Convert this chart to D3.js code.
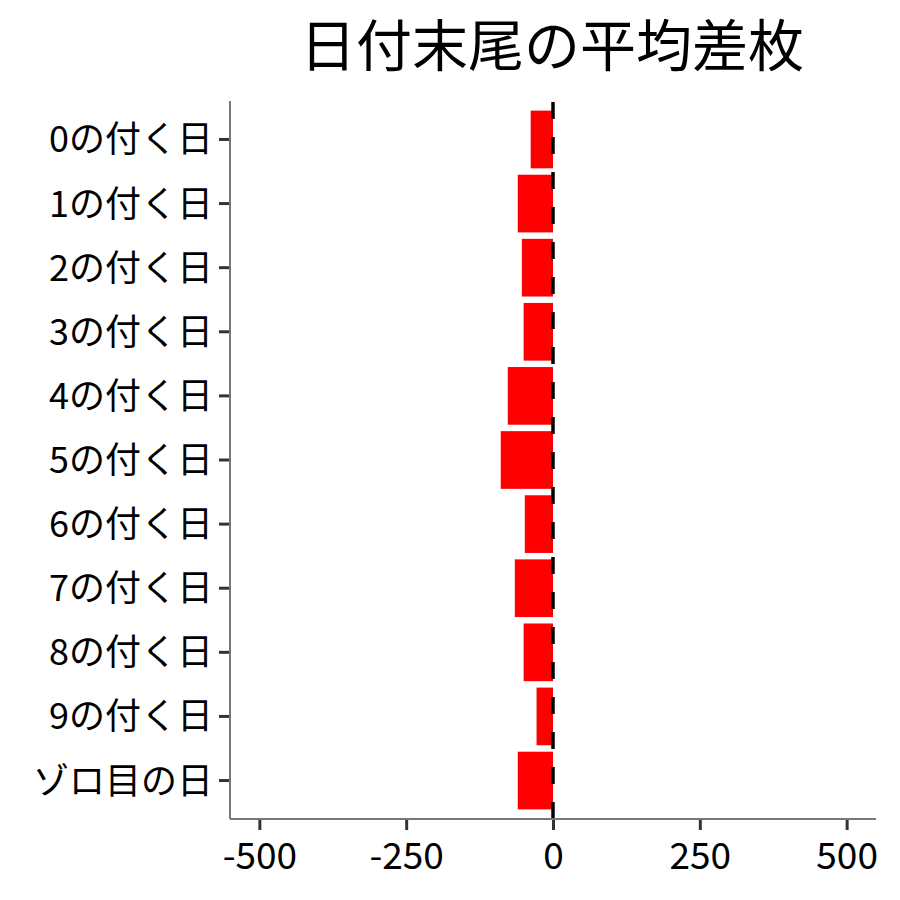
<!DOCTYPE html>
<html>
<head>
    <meta charset="utf-8" />
    <title>日付末尾の平均差枚</title>
    <style>
        body { margin: 0; background: #fff; }
        text { font-family: "Noto Sans CJK JP", "Noto Sans", sans-serif; fill: #000; }
    </style>
</head>
<body>
    <script src="https://cdn.jsdelivr.net/npm/d3@7"></script>
    <script>
    // data
    var categories = ["0の付く日", "1の付く日", "2の付く日", "3の付く日", "4の付く日",
                      "5の付く日", "6の付く日", "7の付く日", "8の付く日", "9の付く日", "ゾロ目の日"];
    var values = [-38, -60, -53, -50, -77, -89, -48, -65, -50, -28, -60];
    var xTicks = [-500, -250, 0, 250, 500];
    var title = "日付末尾の平均差枚";

    var width = 900,
        height = 900,
        panelLeft = 230,
        panelRight = 876,
        panelTop = 101,
        panelBottom = 819;

    var data = categories.map(function(c, i){ return {cat: c, value: values[i]}; });

    var x = d3.scaleLinear()
        .domain([-550, 550])
        .range([panelLeft, panelRight]);

    var y = d3.scaleBand()
        .domain(categories)
        .range([panelTop, panelBottom])
        .paddingInner(0.1)
        .paddingOuter(0.15);

    var svg = d3.select("body").append("svg")
        .attr("width", width)
        .attr("height", height);

    svg.append("text")
        .attr("x", 552)
        .attr("y", 66)
        .attr("text-anchor", "middle")
        .style("font-size", "56px")
        .text(title);

    // bars
    svg.selectAll("rect.bar")
        .data(data)
      .enter().append("rect")
        .attr("class", "bar")
        .attr("x", function(d){ return x(Math.min(0, d.value)); })
        .attr("y", function(d){ return y(d.cat); })
        .attr("width", function(d){ return Math.abs(x(d.value) - x(0)); })
        .attr("height", y.bandwidth())
        .attr("fill", "#ff0000");

    // dashed zero line
    svg.append("line")
        .attr("x1", x(0)).attr("x2", x(0))
        .attr("y1", panelBottom).attr("y2", panelTop)
        .attr("stroke", "#000")
        .attr("stroke-width", 3.5)
        .attr("stroke-dasharray", "17,18");

    // axes
    var xAxis = d3.axisBottom(x)
        .tickValues(xTicks)
        .tickSize(11)
        .tickPadding(8)
        .tickFormat(function(d){ return String(d); });

    var yAxis = d3.axisLeft(y)
        .tickSize(11)
        .tickPadding(6);

    var gx = svg.append("g")
        .attr("transform", "translate(0," + panelBottom + ")")
        .call(xAxis);

    var gy = svg.append("g")
        .attr("transform", "translate(" + panelLeft + ",0)")
        .call(yAxis);

    [gx, gy].forEach(function(g){
        g.select(".domain").remove();
        g.selectAll(".tick line").attr("stroke", "#333").attr("stroke-width", 3);
        g.selectAll(".tick text").attr("fill", "#000");
    });
    gx.selectAll(".tick text").style("font-size", "37px").attr("dy", "0.85em");
    gy.selectAll(".tick text").style("font-size", "36px").attr("dy", "0.36em");

    svg.append("line")
        .attr("x1", panelLeft).attr("x2", panelRight)
        .attr("y1", panelBottom).attr("y2", panelBottom)
        .attr("stroke", "#777").attr("stroke-width", 2);
    svg.append("line")
        .attr("x1", panelLeft).attr("x2", panelLeft)
        .attr("y1", panelTop).attr("y2", panelBottom)
        .attr("stroke", "#777").attr("stroke-width", 2);
    </script>
</body>
</html>
